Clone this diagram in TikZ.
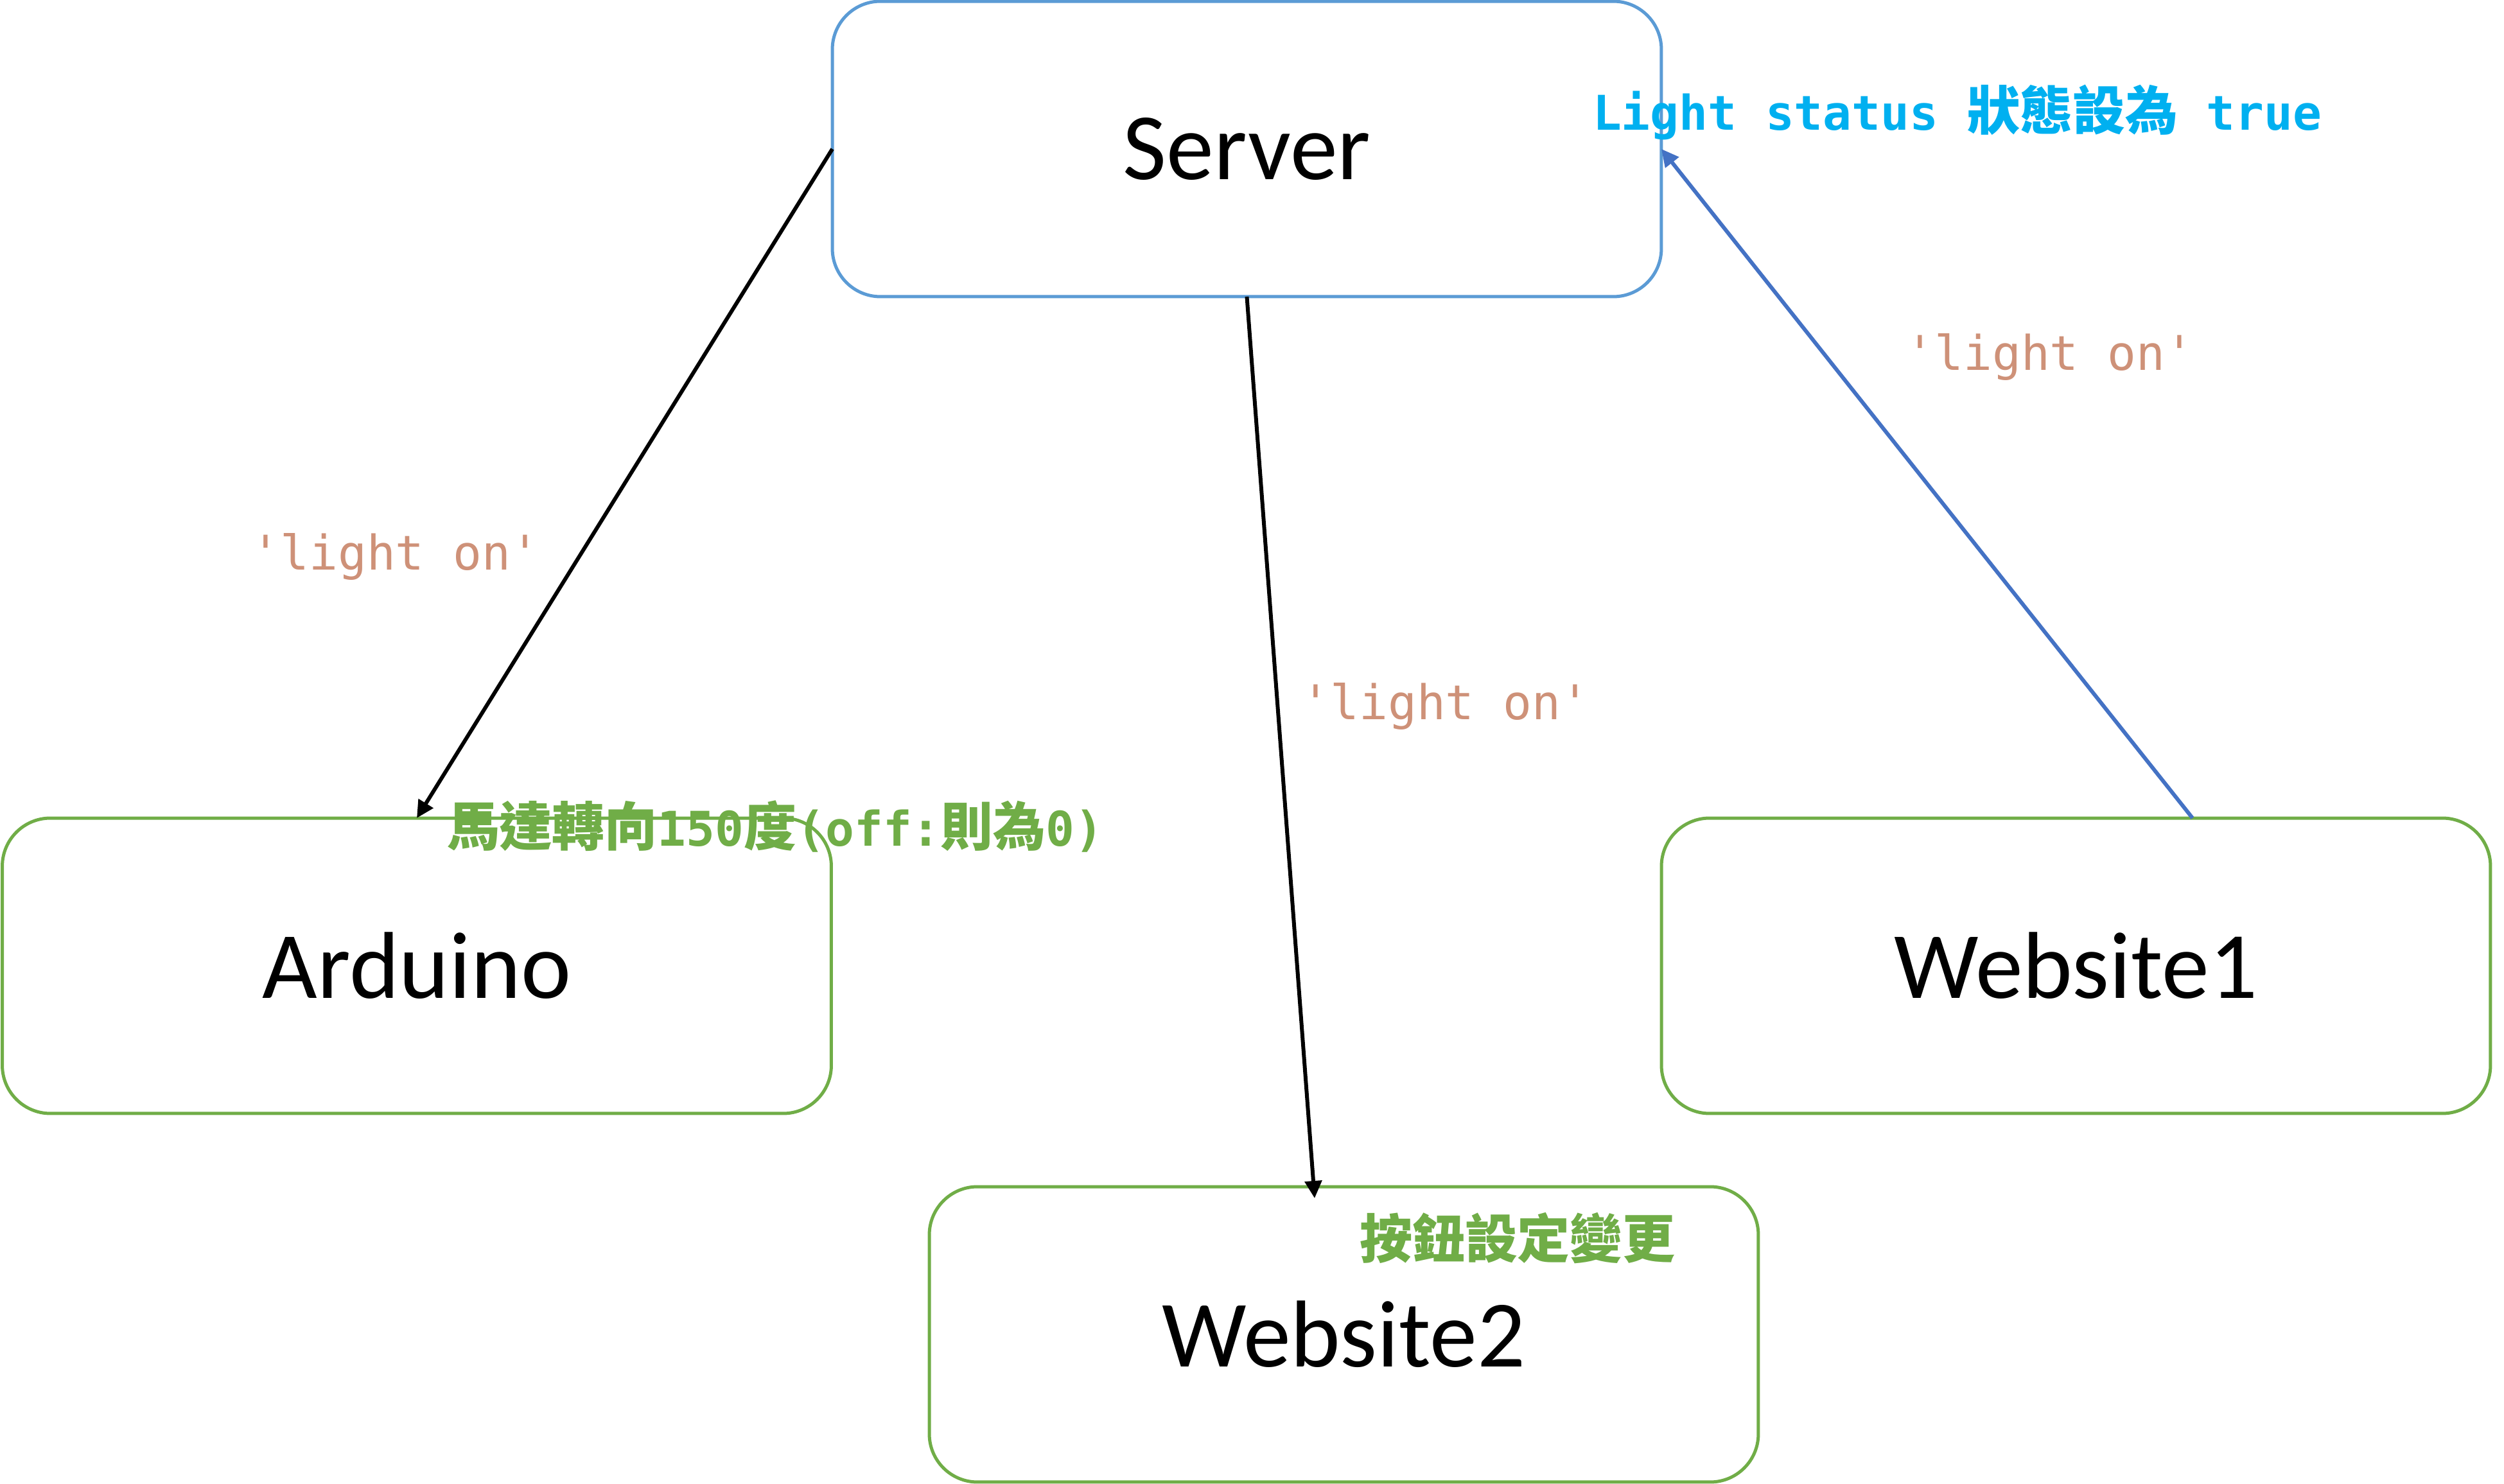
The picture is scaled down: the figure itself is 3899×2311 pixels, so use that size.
\documentclass[tikz,border=0pt]{standalone}
\usepackage{fontspec}
\setmainfont{Carlito}
\newfontfamily\monofont{DejaVu Sans Mono}
\newfontfamily\cjkfont{Noto Sans CJK TC}
\usetikzlibrary{arrows.meta}
\definecolor{srvblue}{HTML}{5B9BD5}
\definecolor{boxgreen}{HTML}{70AD47}
\definecolor{arrblue}{HTML}{4472C4}
\definecolor{strcol}{HTML}{CE9178}
\definecolor{cyantext}{HTML}{00B0F0}
\tikzset{
  box/.style={draw, line width=0.5pt, rounded corners=7.5pt, minimum width=129.1pt,
    minimum height=46pt, inner sep=0pt, outer sep=0pt, fill=white,
    font=\fontsize{14.8}{17}\selectfont},
  conn/.style={line width=0.6pt, -{Triangle[length=2.7pt,width=2.6pt]}},
  strlabel/.style={inner sep=0pt, anchor=base, text=strcol,
    font=\monofont\fontsize{7.45}{9}\selectfont},
  note/.style={inner sep=0pt, anchor=base west, font=\bfseries\fontsize{8.2}{10}\selectfont}
}
\newcommand{\mtxt}[1]{{\monofont\fontsize{7.45}{10}\selectfont #1}}
\newcommand{\ctxt}[1]{{\cjkfont\fontsize{8.2}{10}\selectfont #1}}
\begin{document}
\begin{tikzpicture}[x=0.1pt,y=-0.1pt]
\useasboundingbox (0,0) rectangle (3899,2311);
% boxes
\node[box, draw=srvblue] (server) at (1941.5,232) {Server};
\node[box, draw=boxgreen] (arduino) at (649,1504) {Arduino};
\node[box, draw=boxgreen] (website1) at (3232.5,1504) {Website1};
\node[box, draw=boxgreen] (website2) at (2092.5,2078) {Website2};
% free connector ends
\coordinate (w2tip) at (2047,1866);
\coordinate (w1start) at (3414,1274);
% connectors
\draw[conn, black] (server.west) -- (arduino.north);
\draw[conn, black] (server.south) -- (w2tip);
\draw[conn, arrblue] (w1start) -- (server.east);
% labels
\node[strlabel] (lab1) at (616,888) {'light on'};
\node[strlabel] (lab2) at (2251,1121) {'light on'};
\node[strlabel] (lab3) at (3192,577) {'light on'};
\node[note, text=cyantext] (status) at (2478,203)
  {\mtxt{\bfseries Light\ status\ }\ctxt{\bfseries 狀態設為}\mtxt{\bfseries\ true}};
\node[note, text=boxgreen] (motor) at (694,1318)
  {\ctxt{\bfseries 馬達轉向}\mtxt{\bfseries 150}\ctxt{\bfseries 度}\mtxt{\bfseries (off:}\ctxt{\bfseries 則為}\mtxt{\bfseries 0)}};
\node[note, text=boxgreen] (button) at (2115,1959) {\ctxt{\bfseries 按鈕設定變更}};
\end{tikzpicture}
\end{document}
